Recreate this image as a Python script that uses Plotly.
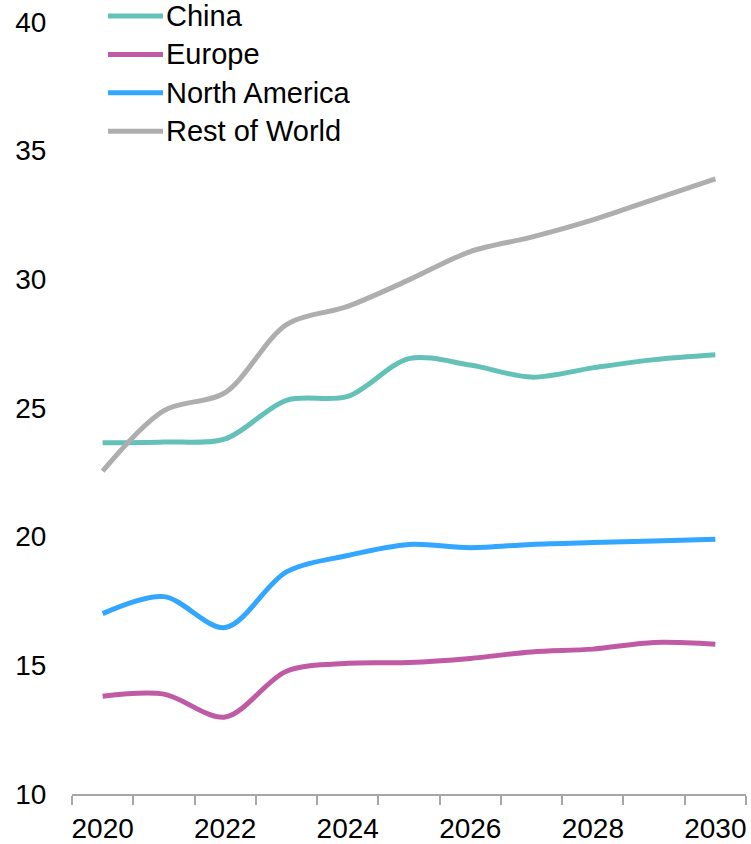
import plotly.graph_objects as go

# Annual values by region, 2020-2030
years = [2020, 2021, 2022, 2023, 2024, 2025, 2026, 2027, 2028, 2029, 2030]
china = [23.65, 23.68, 23.8, 25.3, 25.45, 26.92, 26.67, 26.2, 26.56, 26.88, 27.07]
europe = [13.8, 13.88, 12.99, 14.77, 15.08, 15.11, 15.27, 15.52, 15.63, 15.89, 15.82]
north_america = [17.01, 17.67, 16.47, 18.63, 19.27, 19.7, 19.57, 19.7, 19.77, 19.83, 19.9]
rest_of_world = [22.55, 24.9, 25.6, 28.24, 28.95, 29.98, 31.08, 31.64, 32.31, 33.11, 33.9]

series_names = ["China", "Europe", "North America", "Rest of World"]
series_values = [china, europe, north_america, rest_of_world]
series_colors = ["#63C1B8", "#C05AA5", "#33A6FF", "#AEAEAE"]

x_tick_labels = [2020, 2022, 2024, 2026, 2028, 2030]
y_ticks = [10, 15, 20, 25, 30, 35, 40]

W, H = 751, 844
ML, MR, MT, MB = 72, 5, 22, 50
FONT = "Arial, Liberation Sans, sans-serif"
AXIS_GREY = "#A6A6A6"

fig = go.Figure()
for name, vals, col in zip(series_names, series_values, series_colors):
    fig.add_trace(go.Scatter(
        x=years, y=vals, name=name, mode="lines",
        line=dict(color=col, width=5, shape="spline", smoothing=0.9),
        showlegend=False,
    ))

# Category boundaries for the x-axis tick marks
boundaries = [y - 0.5 for y in years] + [years[-1] + 0.5]

fig.update_xaxes(
    range=[years[0] - 0.5, years[-1] + 0.5],
    tickvals=x_tick_labels,
    ticktext=[str(v) for v in x_tick_labels],
    ticks="outside", ticklen=8, tickcolor="rgba(0,0,0,0)",
    ticklabelstandoff=0,
    tickfont=dict(family=FONT, size=28, color="#000000"),
    showline=True, linecolor=AXIS_GREY, linewidth=2,
    showgrid=False, zeroline=False, automargin=False,
    minor=dict(tickvals=boundaries, ticks="outside", ticklen=9,
               tickcolor=AXIS_GREY, tickwidth=1.5, showgrid=False),
)
fig.update_yaxes(
    range=[10, 40],
    tickvals=y_ticks,
    ticks="outside", ticklen=0, tickcolor="rgba(0,0,0,0)",
    ticklabelstandoff=19,
    tickfont=dict(family=FONT, size=28, color="#000000"),
    showline=False, showgrid=False, zeroline=False, automargin=False,
)

# Legend drawn as line swatches with labels, top-left of the plot
plot_w = W - ML - MR
plot_h = H - MT - MB
sw_x0, sw_x1, txt_x = 108, 163, 164
row0, pitch = 16, 38.4
for i, (name, col) in enumerate(zip(series_names, series_colors)):
    py = row0 + i * pitch
    yp = (H - MB - py) / plot_h
    fig.add_shape(
        type="line", xref="paper", yref="paper",
        x0=(sw_x0 - ML) / plot_w, x1=(sw_x1 - ML) / plot_w, y0=yp, y1=yp,
        line=dict(color=col, width=5),
    )
    fig.add_annotation(
        xref="paper", yref="paper", x=(txt_x - ML) / plot_w, y=yp,
        text=name, showarrow=False, xanchor="left", yanchor="middle",
        font=dict(family=FONT, size=29, color="#000000"),
    )

fig.update_layout(
    width=W, height=H,
    margin=dict(l=ML, r=MR, t=MT, b=MB),
    paper_bgcolor="white", plot_bgcolor="white",
)

fig.write_html("out.html")
